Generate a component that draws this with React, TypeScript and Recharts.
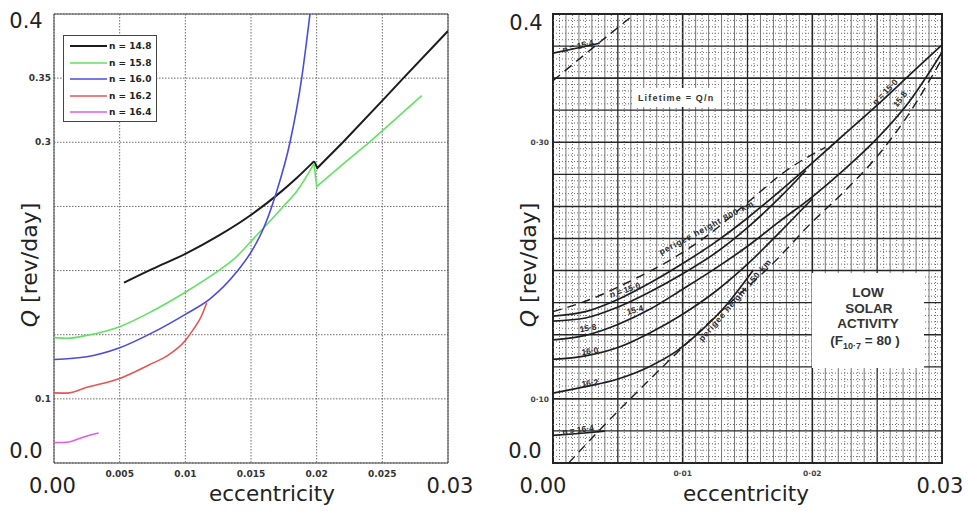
import React from 'react';
import {
  LineChart,
  Line,
  XAxis,
  YAxis,
  CartesianGrid,
  ReferenceArea,
  ReferenceDot,
  ReferenceLine,
  Legend,
  Label,
} from 'recharts';

const FONT = '"DejaVu Sans", "Liberation Sans", sans-serif';
const COND = '"Liberation Sans", "DejaVu Sans", sans-serif';

// ---------------- Left panel (reproduction) ----------------
const LEFT_X_TICKS = [0, 0.005, 0.01, 0.015, 0.02, 0.025, 0.03];
const LEFT_X_LABELS = ['0.00', '0.005', '0.01', '0.015', '0.02', '0.025', '0.03'];
const LEFT_Y_TICKS = [0.05, 0.1, 0.15, 0.2, 0.25, 0.3, 0.35, 0.4];
const LEFT_Y_LABELS = ['0.0', '0.1', '', '', '', '0.3', '0.35', '0.4'];

// n = 14.8 : smooth part up to the peak, then the straight part after the jump at e = 0.02
const N148_E = [0.00533, 0.0075, 0.01, 0.0125, 0.01513, 0.01695, 0.01848, 0.0198];
const N148_Q = [0.1906, 0.2013, 0.213, 0.227, 0.2443, 0.2586, 0.2722, 0.2852];
const N148B_E = [0.0198, 0.02005, 0.022, 0.025, 0.0266, 0.03];
const N148B_Q = [0.2852, 0.28, 0.3, 0.3325, 0.35, 0.3867];

// n = 15.8
const N158_E = [0, 0.001, 0.0025, 0.005, 0.0075, 0.01, 0.0125, 0.01365, 0.01543, 0.01746, 0.0185, 0.0198];
const N158_Q = [0.1477, 0.1472, 0.1495, 0.1563, 0.1685, 0.1831, 0.1997, 0.2085, 0.2275, 0.25, 0.262, 0.2834];
const N158B_E = [0.0198, 0.02, 0.022, 0.024, 0.026, 0.028];
const N158B_Q = [0.2834, 0.2655, 0.283, 0.3, 0.318, 0.3364];

const N160_E = [0, 0.0025, 0.005, 0.0075, 0.01, 0.01188, 0.0139, 0.01513, 0.01594, 0.0169, 0.01797, 0.01886, 0.01949];
const N160_Q = [0.1307, 0.1328, 0.1398, 0.1516, 0.1659, 0.1779, 0.1988, 0.2165, 0.2326, 0.2599, 0.3, 0.35, 0.4];

const N162_E = [0, 0.001, 0.0025, 0.005, 0.0073, 0.00858, 0.01, 0.0106, 0.0112, 0.01163];
const N162_Q = [0.1047, 0.1045, 0.109, 0.1159, 0.1268, 0.1333, 0.1455, 0.154, 0.164, 0.175];

const N164_E = [0, 0.001, 0.002, 0.0027, 0.0034];
const N164_Q = [0.066, 0.0662, 0.0693, 0.0716, 0.0734];

const LEFT_NAMES = ['n = 14.8', 'n = 15.8', 'n = 16.0', 'n = 16.2', 'n = 16.4'];
const LEFT_COLORS = ['#1c1c1c', '#62e262', '#4b4bdc', '#e85454', '#e05ee0'];

// ---------------- Right panel (original chart) ----------------
const RIGHT_X_TICKS = [0, 0.01, 0.02, 0.03];
const RIGHT_X_LABELS = ['0.00', '0·01', '0·02', '0.03'];
const RIGHT_Y_TICKS = [0.05, 0.1, 0.3, 0.4];
const RIGHT_Y_LABELS = ['0.0', '0·10', '0·30', '0.4'];

const R150_E = [0, 0.0025, 0.005, 0.0075, 0.01, 0.0125, 0.015, 0.0175, 0.02, 0.0225, 0.025, 0.0275, 0.03];
const R150_Q = [0.1645, 0.168, 0.1775, 0.1905, 0.2055, 0.222, 0.241, 0.262, 0.284, 0.3065, 0.329, 0.3525, 0.376];

const R154_E = [0, 0.0025, 0.005, 0.0075, 0.01, 0.0125, 0.015, 0.0175, 0.0195];
const R154_Q = [0.1606, 0.163, 0.1715, 0.1835, 0.1975, 0.2135, 0.2335, 0.257, 0.278];

const R158_E = [0, 0.0025, 0.005, 0.0075, 0.01, 0.0125, 0.015, 0.0175, 0.02, 0.0225, 0.025, 0.0275, 0.03];
const R158_Q = [0.146, 0.1495, 0.158, 0.17, 0.1855, 0.2015, 0.219, 0.2385, 0.2575, 0.279, 0.303, 0.332, 0.37];

const R160_E = [0, 0.0025, 0.005, 0.0075, 0.01, 0.0125, 0.015, 0.0175, 0.02];
const R160_Q = [0.1307, 0.1335, 0.14, 0.1516, 0.166, 0.1835, 0.205, 0.23, 0.256];

const R162_E = [0, 0.0025, 0.005, 0.0075, 0.0095, 0.0113, 0.0131, 0.01545];
const R162_Q = [0.1045, 0.1095, 0.1155, 0.1255, 0.137, 0.152, 0.17, 0.2005];

const R164_E = [0, 0.002, 0.004];
const R164_Q = [0.0715, 0.073, 0.0748];

const RTOP_E = [0, 0.0018, 0.0036];
const RTOP_Q = [0.3695, 0.3733, 0.3772];

const RP800_E = [0, 0.003, 0.006, 0.009, 0.012, 0.015, 0.018, 0.021];
const RP800_Q = [0.168, 0.178, 0.192, 0.208, 0.228, 0.253, 0.278, 0.296];

const RP150_E = [0.0012, 0.004, 0.0072, 0.0106, 0.014, 0.017, 0.02, 0.0225, 0.025, 0.0275, 0.03];
const RP150_Q = [0.05, 0.08, 0.1125, 0.146, 0.178, 0.206, 0.238, 0.262, 0.289, 0.323, 0.365];

const RTOPDASH_E = [0, 0.003, 0.0063];
const RTOPDASH_Q = [0.348, 0.373, 0.4];

const zip = (es: number[], qs: number[]) => es.map((e, i) => ({ e, q: qs[i] }));

const LEFT_SERIES = [
  zip(N148_E, N148_Q),
  zip(N158_E, N158_Q),
  zip(N160_E, N160_Q),
  zip(N162_E, N162_Q),
  zip(N164_E, N164_Q),
];
// continuation after the jump at e = 0.02 (same colour as series 0 and 1)
const LEFT_TAILS = [zip(N148B_E, N148B_Q), zip(N158B_E, N158B_Q)];

const RIGHT_SOLID = [
  zip(R150_E, R150_Q),
  zip(R154_E, R154_Q),
  zip(R158_E, R158_Q),
  zip(R160_E, R160_Q),
  zip(R162_E, R162_Q),
  zip(R164_E, R164_Q),
  zip(RTOP_E, RTOP_Q),
];
const RIGHT_DASHED = [zip(RP800_E, RP800_Q), zip(RP150_E, RP150_Q), zip(RTOPDASH_E, RTOPDASH_Q)];

// grid values for the scanned chart paper
const PAPER_X = Array.from({ length: 61 }, (_, i) => Math.round(i * 5) / 10000);
const PAPER_Y = Array.from({ length: 71 }, (_, j) => Math.round((0.05 + j * 0.005) * 1000) / 1000);

// ---------------- tick renderers ----------------
const LeftXTick = (p: any) => {
  const v = p.payload.value;
  const label = LEFT_X_LABELS[LEFT_X_TICKS.indexOf(v)];
  if (v === 0 || v === 0.03) {
    return (
      <text x={p.x + (v === 0 ? -1.5 : 2)} y={493} textAnchor="middle" fontSize={21} fontFamily={FONT} fill="#222">
        {label}
      </text>
    );
  }
  return (
    <text x={p.x} y={476.5} textAnchor="middle" fontSize={9} fontWeight="bold" fontFamily={FONT} fill="#333">
      {label}
    </text>
  );
};

const LeftYTick = (p: any) => {
  const v = p.payload.value;
  const label = LEFT_Y_LABELS[LEFT_Y_TICKS.indexOf(v)];
  if (!label) return null;
  if (v === 0.4) {
    return (
      <text x={26} y={p.y + 14} textAnchor="middle" fontSize={21} fontFamily={FONT} fill="#222">
        {label}
      </text>
    );
  }
  if (v === 0.05) {
    return (
      <text x={26} y={p.y - 5} textAnchor="middle" fontSize={21} fontFamily={FONT} fill="#222">
        {label}
      </text>
    );
  }
  return (
    <text x={51} y={p.y + 3.2} textAnchor="end" fontSize={9} fontWeight="bold" fontFamily={FONT} fill="#333">
      {label}
    </text>
  );
};

const RightXTick = (p: any) => {
  const v = p.payload.value;
  const label = RIGHT_X_LABELS[RIGHT_X_TICKS.indexOf(v)];
  if (v === 0 || v === 0.03) {
    return (
      <text x={p.x + (v === 0 ? -10 : -2)} y={493} textAnchor="middle" fontSize={21} fontFamily={FONT} fill="#222">
        {label}
      </text>
    );
  }
  return (
    <text x={p.x} y={476} textAnchor="middle" fontSize={7.5} fontWeight="bold" fontFamily={FONT} fill="#444">
      {label}
    </text>
  );
};

const RightYTick = (p: any) => {
  const v = p.payload.value;
  const label = RIGHT_Y_LABELS[RIGHT_Y_TICKS.indexOf(v)];
  if (v === 0.4) {
    return (
      <text x={36} y={p.y + 16} textAnchor="middle" fontSize={21} fontFamily={FONT} fill="#222">
        {label}
      </text>
    );
  }
  if (v === 0.05) {
    return (
      <text x={35} y={p.y - 5} textAnchor="middle" fontSize={21} fontFamily={FONT} fill="#222">
        {label}
      </text>
    );
  }
  return (
    <text x={59} y={p.y + 3} textAnchor="end" fontSize={7.5} fontWeight="bold" fontFamily={FONT} fill="#444">
      {label}
    </text>
  );
};

const QTitle = (x: number, y: number) => () => (
  <text x={x} y={y} transform={`rotate(-90 ${x} ${y})`} textAnchor="middle" fontSize={22} fontFamily={FONT} fill="#222">
    <tspan fontStyle="italic">Q</tspan>
    <tspan> [rev/day]</tspan>
  </text>
);

const XTitle = (x: number) => () => (
  <text x={x} y={500.5} textAnchor="middle" fontSize={21.5} fontFamily={FONT} fill="#222">
    eccentricity
  </text>
);

const LeftLegend = (props: any) => {
  const items: any[] = (props.payload || []).filter((it: any) => LEFT_NAMES.includes(it.value));
  return (
    <div
      style={{
        border: '1px solid #444',
        background: '#fff',
        width: 94,
        height: 87,
        boxSizing: 'border-box',
        paddingTop: 2,
      }}
    >
      {items.map((it: any) => (
        <div key={it.value} style={{ display: 'flex', alignItems: 'center', height: 16.5 }}>
          <svg width={44} height={6} style={{ display: 'block' }}>
            <line x1={6} x2={43} y1={3} y2={3} stroke={it.color} strokeWidth={it.value === LEFT_NAMES[0] ? 2 : 1.6} />
          </svg>
          <span style={{ font: `bold 9px ${FONT}`, color: '#222', marginLeft: 1, whiteSpace: 'nowrap' }}>{it.value}</span>
        </div>
      ))}
    </div>
  );
};

const rotLabel = (text: string, angle: number, size = 8.5, spacing = 0) => (p: any) => {
  const vb = p.viewBox || {};
  const cx = (vb.x || 0) + (vb.width || 0) / 2;
  const cy = (vb.y || 0) + (vb.height || 0) / 2;
  return (
    <text
      x={cx}
      y={cy}
      transform={`rotate(${angle} ${cx} ${cy})`}
      textAnchor="middle"
      dominantBaseline="central"
      fontSize={size}
      fontWeight="bold"
      fontFamily={COND}
      fill="#2a2a2a"
      letterSpacing={spacing}
    >
      {text}
    </text>
  );
};

const LowSolarLabel = (p: any) => {
  const vb = p.viewBox || {};
  const cx = (vb.x || 0) + (vb.width || 0) / 2;
  const top = vb.y || 0;
  const common = { textAnchor: 'middle' as const, fontSize: 13.5, fontWeight: 'bold', fontFamily: COND, fill: '#333' };
  return (
    <g>
      <text x={cx} y={top + 23.5} {...common}>LOW</text>
      <text x={cx + 1} y={top + 40} {...common}>SOLAR</text>
      <text x={cx} y={top + 55} {...common}>ACTIVITY</text>
      <text x={cx - 3} y={top + 72} {...common}>
        (F<tspan fontSize={9} dy={4}>10·7</tspan>
        <tspan dy={-4}> = 80 )</tspan>
      </text>
    </g>
  );
};

const LifetimeLabel = (p: any) => {
  const vb = p.viewBox || {};
  const cx = (vb.x || 0) + (vb.width || 0) / 2;
  const cy = (vb.y || 0) + (vb.height || 0) / 2;
  return (
    <text x={cx} y={cy + 3.5} textAnchor="middle" fontSize={9} fontWeight="bold" fontFamily={COND} fill="#333" letterSpacing={1.2}>
      Lifetime = Q/n
    </text>
  );
};

export default function App() {
  return (
    <div style={{ position: 'absolute', left: 0, top: 0, width: 968, height: 512, background: '#fff', overflow: 'hidden' }}>
      {/* Left panel */}
      <div style={{ position: 'absolute', left: 0, top: 0 }}>
        <LineChart width={490} height={512} margin={{ top: 14, right: 42, bottom: 19, left: 0 }}>
          <CartesianGrid stroke="#5c5c5c" strokeDasharray="1.5 1.5" strokeWidth={0.9} />
          <XAxis
            type="number"
            dataKey="e"
            domain={[0, 0.03]}
            ticks={LEFT_X_TICKS}
            interval={0}
            height={30}
            tickLine={false}
            axisLine={false}
            tick={LeftXTick}
            allowDataOverflow
          >
            <Label content={XTitle(272)} />
          </XAxis>
          <YAxis
            type="number"
            domain={[0.05, 0.4]}
            ticks={LEFT_Y_TICKS}
            interval={0}
            width={54}
            tickLine={false}
            axisLine={false}
            tick={LeftYTick}
            allowDataOverflow
          >
            <Label content={QTitle(37, 265)} />
          </YAxis>
          <ReferenceArea x1={0} x2={0.03} y1={0.05} y2={0.4} fill="none" stroke="#444" strokeWidth={1} />
          {LEFT_TAILS.map((d, i) => (
            <Line
              key={'tail' + i}
              data={d}
              dataKey="q"
              type="linear"
              stroke={LEFT_COLORS[i]}
              strokeWidth={i === 0 ? 2 : 1.6}
              dot={false}
              activeDot={false}
              legendType="none"
              isAnimationActive={false}
            />
          ))}
          {LEFT_SERIES.map((d, i) => (
            <Line
              key={LEFT_NAMES[i]}
              data={d}
              dataKey="q"
              name={LEFT_NAMES[i]}
              type="monotone"
              stroke={LEFT_COLORS[i]}
              strokeWidth={i === 0 ? 2 : 1.6}
              dot={false}
              activeDot={false}
              isAnimationActive={false}
            />
          ))}
          <Legend
            layout="vertical"
            align="center"
            verticalAlign="middle"
            content={LeftLegend}
            wrapperStyle={{ position: 'absolute', left: 63, top: 35, width: 94, height: 87, margin: 0, padding: 0 }}
          />
        </LineChart>
      </div>

      {/* Right panel */}
      <div style={{ position: 'absolute', left: 490, top: 0 }}>
        <LineChart width={478} height={512} margin={{ top: 14, right: 26, bottom: 19, left: 0 }}>
          <XAxis
            type="number"
            dataKey="e"
            domain={[0, 0.03]}
            ticks={RIGHT_X_TICKS}
            interval={0}
            height={30}
            tickLine={false}
            axisLine={false}
            tick={RightXTick}
            allowDataOverflow
          >
            <Label content={XTitle(256)} />
          </XAxis>
          <YAxis
            type="number"
            domain={[0.05, 0.4]}
            ticks={RIGHT_Y_TICKS}
            interval={0}
            width={63}
            tickLine={false}
            axisLine={false}
            tick={RightYTick}
            allowDataOverflow
          >
            <Label content={QTitle(46, 265)} />
          </YAxis>
          {PAPER_X.map((v, i) =>
            i % 10 === 0 ? (
              <ReferenceLine key={'vx' + i} x={v} stroke="#262626" strokeWidth={i % 20 === 0 ? 1.6 : 1.3} />
            ) : i % 2 === 0 ? (
              <ReferenceLine key={'vx' + i} x={v} stroke="#666" strokeWidth={0.9} />
            ) : (
              <ReferenceLine key={'vx' + i} x={v} stroke="#6e6e6e" strokeWidth={1} strokeDasharray="1 2" />
            )
          )}
          {PAPER_Y.map((v, j) =>
            j % 5 === 0 ? (
              <ReferenceLine key={'hy' + j} y={v} stroke="#262626" strokeWidth={j % 10 === 0 ? 1.6 : 1.3} />
            ) : (
              <ReferenceLine key={'hy' + j} y={v} stroke="#6e6e6e" strokeWidth={1} strokeDasharray="1 2" />
            )
          )}
          <ReferenceArea x1={0.0061} x2={0.0129} y1={0.3275} y2={0.3423} fill="#fff" fillOpacity={1} stroke="none" zIndex={900} label={LifetimeLabel} />
          <ReferenceArea x1={0.01997} x2={0.02861} y1={0.1241} y2={0.1981} fill="#fff" fillOpacity={1} stroke="none" zIndex={900} label={LowSolarLabel} />
          <ReferenceArea x1={0} x2={0.03} y1={0.05} y2={0.4} fill="none" stroke="#222" strokeWidth={2} />
          {RIGHT_SOLID.map((d, i) => (
            <Line
              key={'rs' + i}
              data={d}
              dataKey="q"
              type="monotone"
              stroke="#1e1e1e"
              strokeWidth={1.7}
              dot={false}
              activeDot={false}
              legendType="none"
              isAnimationActive={false}
            />
          ))}
          {RIGHT_DASHED.map((d, i) => (
            <Line
              key={'rd' + i}
              data={d}
              dataKey="q"
              type="monotone"
              stroke="#1e1e1e"
              strokeWidth={1.4}
              strokeDasharray="9 6"
              dot={false}
              activeDot={false}
              legendType="none"
              isAnimationActive={false}
            />
          ))}
          <ReferenceDot x={0.00193} y={0.375} r={1} fill="none" stroke="none" label={rotLabel('n = 15·4', -14)} />
          <ReferenceDot x={0.01184} y={0.2336} r={1} fill="none" stroke="none" label={rotLabel('perigee  height  800 km', -28, 8.5, 0.8)} />
          <ReferenceDot x={0.00555} y={0.1849} r={1} fill="none" stroke="none" label={rotLabel('n = 15·0', -18)} />
          <ReferenceDot x={0.00632} y={0.1693} r={1} fill="none" stroke="none" label={rotLabel('15·4', -15)} />
          <ReferenceDot x={0.0027} y={0.1553} r={1} fill="none" stroke="none" label={rotLabel('15·8', -10)} />
          <ReferenceDot x={0.00285} y={0.1373} r={1} fill="none" stroke="none" label={rotLabel('16·0', -8)} />
          <ReferenceDot x={0.00285} y={0.1124} r={1} fill="none" stroke="none" label={rotLabel('16·2', -8)} />
          <ReferenceDot x={0.00193} y={0.0758} r={1} fill="none" stroke="none" label={rotLabel('n = 16·4', -8)} />
          <ReferenceDot x={0.01404} y={0.1771} r={1} fill="none" stroke="none" label={rotLabel('perigee  height  150 km', -49, 8.5, 0.8)} />
          <ReferenceDot x={0.0256} y={0.3392} r={1} fill="none" stroke="none" label={rotLabel('n = 15·0', -46)} />
          <ReferenceDot x={0.02676} y={0.3337} r={1} fill="none" stroke="none" label={rotLabel('15·8', -53)} />
        </LineChart>
      </div>
    </div>
  );
}
